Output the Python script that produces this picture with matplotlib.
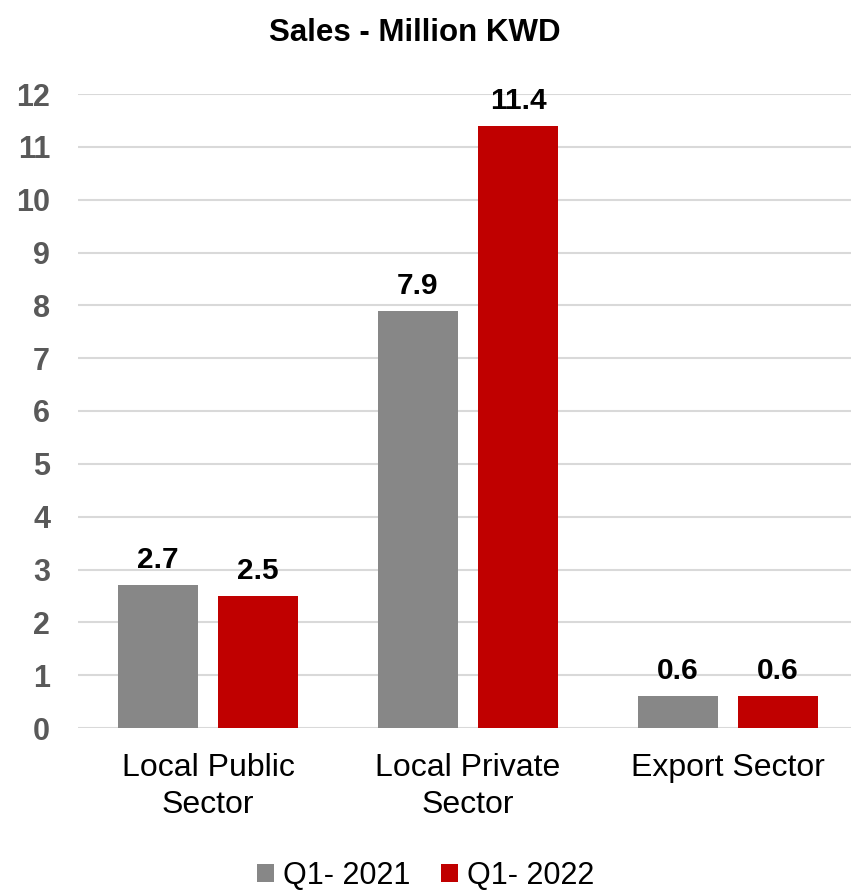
import matplotlib
matplotlib.use("Agg")
from matplotlib import pyplot as plt
import numpy as np

plt.rcParams['font.family'] = ['Liberation Sans', 'DejaVu Sans']

categories = ["Local Public\nSector", "Local Private\nSector", "Export Sector"]
q1_2021 = [2.7, 7.9, 0.6]
q1_2022 = [2.5, 11.4, 0.6]
series_names = ["Q1- 2021", "Q1- 2022"]
y_ticks = list(range(0, 13))

fig = plt.figure(figsize=(8.51, 8.92), dpi=100)
# axes placed to match the reference plot area
ax = fig.add_axes([78 / 851, 164 / 892, 773 / 851, 634 / 892])

x = np.arange(len(categories))
w = 80 / 260
off = 50 / 260
b1 = ax.bar(x - off, q1_2021, width=w, color="#878787", label=series_names[0], zorder=3)
b2 = ax.bar(x + off, q1_2022, width=w, color="#C00000", label=series_names[1], zorder=3)

for bars in (b1, b2):
    for r in bars:
        ax.annotate(f"{r.get_height():.1f}", (r.get_x() + r.get_width() / 2, r.get_height()),
                    xytext=(0, 8), textcoords="offset points", ha="center", va="bottom",
                    fontsize=21.5, fontweight="bold", color="black")

ax.set_xlim(-0.5, -0.5 + 773 / 260)
ax.set_ylim(0, 12)
ax.set_yticks(y_ticks)
ax.set_yticklabels([str(t) for t in y_ticks], fontsize=22, fontweight="bold", color="#595959")
ax.set_xticks(x)
ax.set_xticklabels(categories, fontsize=23, color="black", linespacing=1.3)
ax.tick_params(axis="both", length=0)
ax.tick_params(axis="y", pad=20)
ax.tick_params(axis="x", pad=18)
ax.yaxis.grid(True, color="#D9D9D9", linewidth=1.5, zorder=0)
for s in ax.spines.values():
    s.set_visible(False)

fig.text(0.487, 0.963, "Sales - Million KWD", ha="center", va="center",
         fontsize=22.5, fontweight="bold")
fig.legend(loc="center", bbox_to_anchor=(0.5, 0.018), ncol=2, frameon=False,
           fontsize=22, handlelength=0.55, handleheight=0.55, handletextpad=0.3,
           columnspacing=1.0, borderpad=0.0)

plt.savefig("out.png", dpi=100, facecolor="white")
